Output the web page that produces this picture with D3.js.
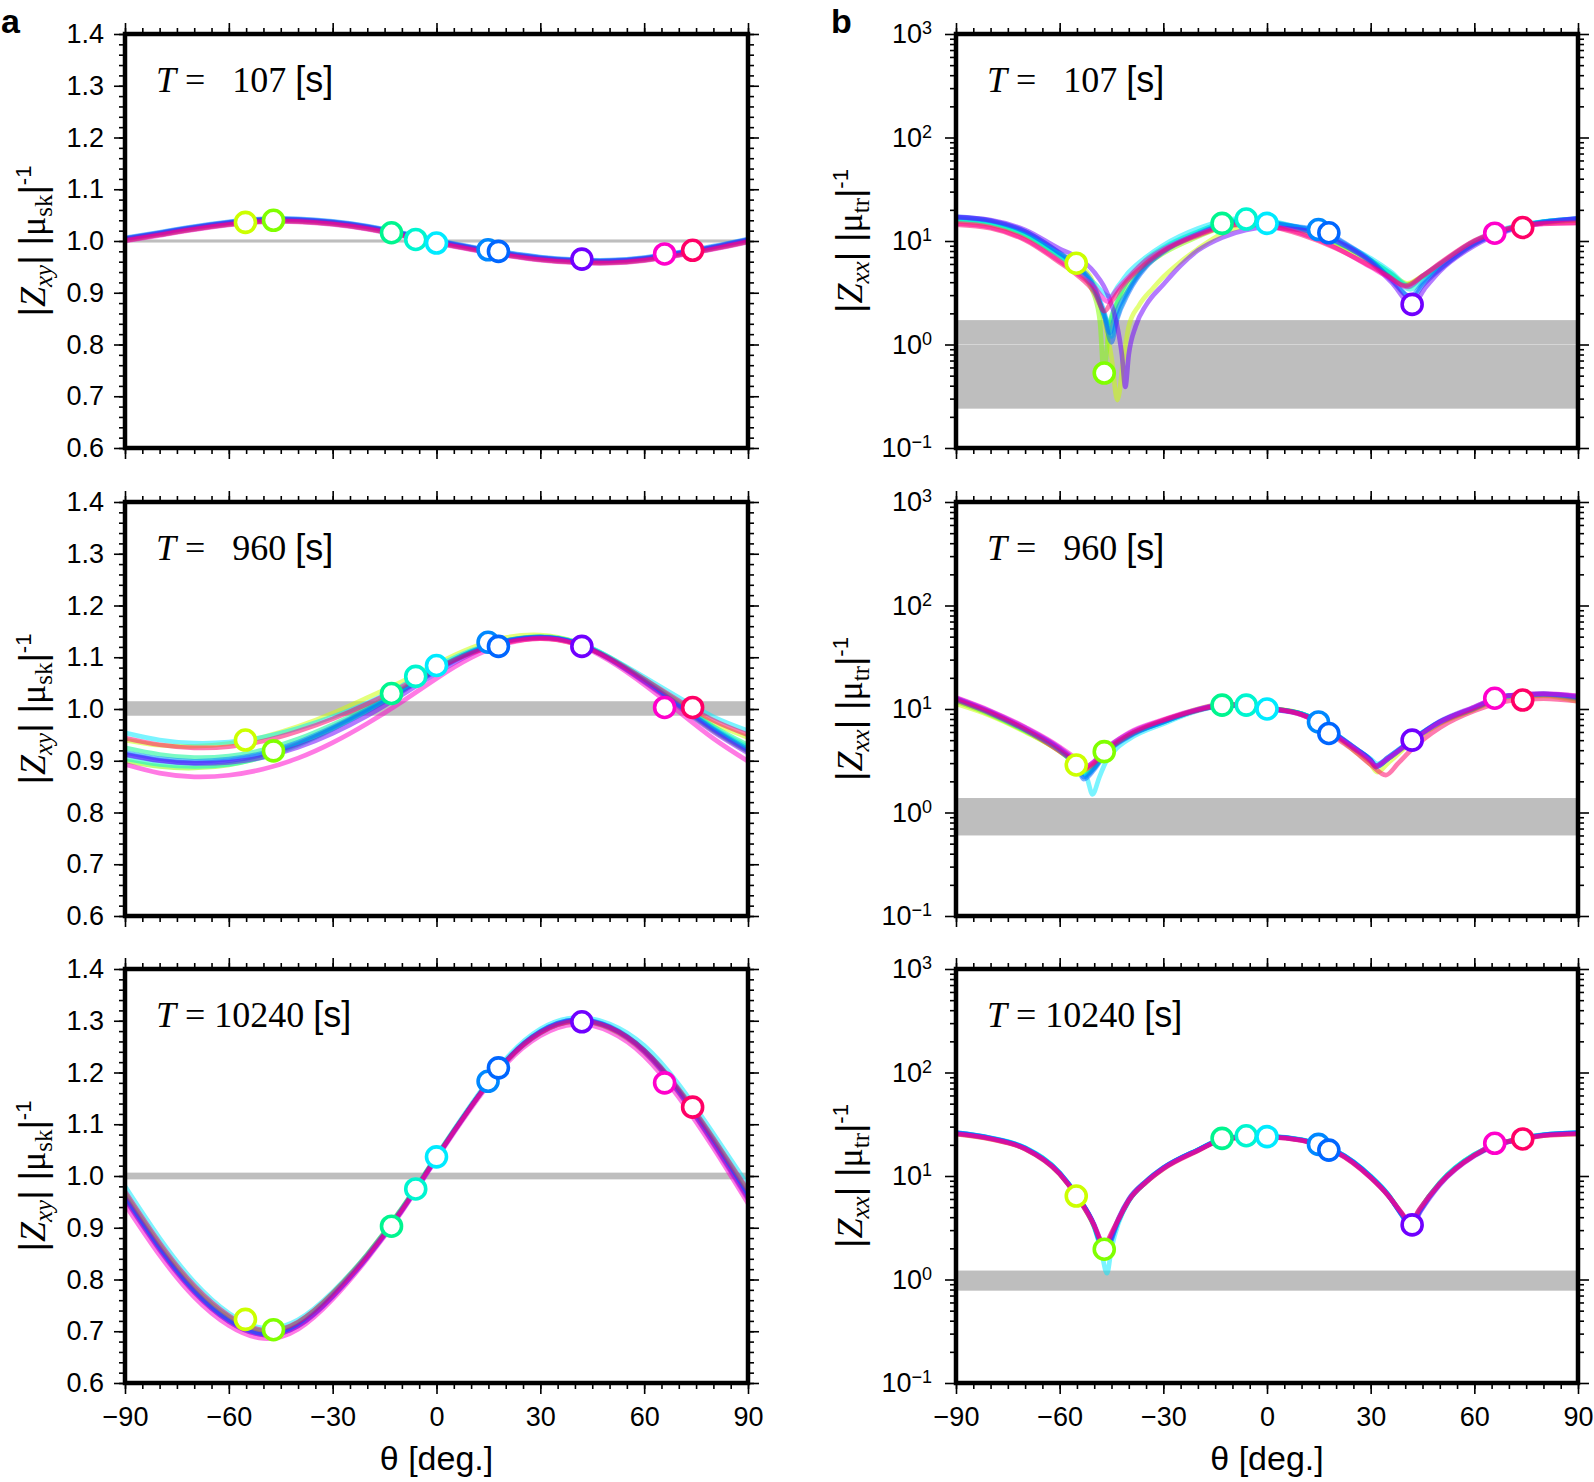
<!DOCTYPE html>
<html><head><meta charset="utf-8">
<script src="https://cdn.jsdelivr.net/npm/d3@7"></script>
<style>body{margin:0;background:#fff}svg{display:block}</style>
</head><body>
<svg id="fig" width="1594" height="1482"></svg>
<script>
const SANS = "'Liberation Sans', Arial, Helvetica, sans-serif";
const SERIF = "'Liberation Serif', 'Times New Roman', serif";

// ---------------- data ----------------
const periods = ["  107", "  960", "10240"];
const xTicks = [-90, -60, -30, 0, 30, 60, 90];
const linTicks = [0.6, 0.7, 0.8, 0.9, 1.0, 1.1, 1.2, 1.3, 1.4];
const logTicks = [0.1, 1, 10, 100, 1000];
const logExp = ["\u22121", "0", "1", "2", "3"];
const siteAngles = [-55.2, -47.1, -13, -6, 0, 14.9, 17.9, 42, 65.9, 74];
const siteColors = ["#ccff00", "#80ff00", "#00f58f", "#00f5d0", "#00eaff", "#0088ff", "#0066ff", "#7000ff", "#ff00cc", "#ff0066"];
const thetaGrid = [-90,-80,-70,-60,-50,-40,-30,-20,-10,0,10,20,30,40,50,60,70,80,90];

// panel a : |Zxy| |mu_sk|^-1, one array per site (values on thetaGrid)
const lineA107 = [
 [1.002,1.013,1.024,1.033,1.039,1.039,1.034,1.025,1.012,0.998,0.985,0.974,0.965,0.960,0.959,0.964,0.974,0.986,1.000],
 [1.003,1.014,1.025,1.034,1.040,1.040,1.035,1.026,1.013,0.999,0.986,0.975,0.966,0.961,0.960,0.965,0.975,0.987,1.001],
 [1.004,1.015,1.026,1.035,1.041,1.041,1.036,1.027,1.014,1.000,0.987,0.976,0.967,0.962,0.961,0.966,0.976,0.988,1.002],
 [1.003,1.014,1.025,1.034,1.040,1.040,1.035,1.026,1.013,0.999,0.986,0.975,0.966,0.961,0.960,0.965,0.975,0.987,1.001],
 [1.001,1.012,1.023,1.032,1.038,1.038,1.033,1.024,1.011,0.997,0.984,0.973,0.964,0.959,0.958,0.963,0.973,0.985,0.999],
 [1.006,1.017,1.028,1.037,1.043,1.043,1.038,1.029,1.016,1.002,0.989,0.978,0.969,0.964,0.963,0.968,0.978,0.990,1.004],
 [1.005,1.016,1.027,1.036,1.042,1.042,1.037,1.028,1.015,1.001,0.988,0.977,0.968,0.963,0.962,0.967,0.977,0.989,1.003],
 [1.004,1.015,1.026,1.035,1.041,1.041,1.036,1.027,1.014,1.000,0.987,0.976,0.967,0.962,0.961,0.966,0.976,0.988,1.002],
 [1.000,1.011,1.022,1.031,1.037,1.037,1.032,1.023,1.010,0.996,0.983,0.972,0.963,0.958,0.957,0.962,0.972,0.984,0.998],
 [1.001,1.012,1.023,1.032,1.038,1.038,1.033,1.024,1.011,0.997,0.984,0.973,0.964,0.959,0.958,0.963,0.973,0.985,0.999]
];
const lineA960 = [
 [0.940,0.930,0.928,0.933,0.946,0.966,0.992,1.022,1.053,1.087,1.118,1.138,1.143,1.130,1.098,1.056,1.013,0.973,0.945],
 [0.900,0.889,0.886,0.892,0.908,0.932,0.963,0.998,1.036,1.076,1.110,1.131,1.139,1.128,1.096,1.053,1.006,0.958,0.918],
 [0.925,0.912,0.906,0.909,0.921,0.942,0.970,1.002,1.039,1.078,1.111,1.132,1.140,1.130,1.100,1.058,1.012,0.966,0.930],
 [0.904,0.893,0.889,0.893,0.907,0.930,0.961,0.997,1.036,1.077,1.110,1.131,1.138,1.128,1.098,1.056,1.010,0.964,0.926],
 [0.954,0.940,0.934,0.936,0.946,0.963,0.985,1.012,1.045,1.082,1.113,1.132,1.138,1.130,1.100,1.062,1.022,0.985,0.958],
 [0.916,0.904,0.899,0.903,0.915,0.936,0.965,0.999,1.037,1.077,1.111,1.132,1.139,1.128,1.097,1.054,1.008,0.962,0.922],
 [0.913,0.901,0.896,0.900,0.912,0.933,0.962,0.996,1.034,1.074,1.109,1.131,1.139,1.128,1.097,1.054,1.007,0.960,0.919],
 [0.912,0.900,0.895,0.897,0.907,0.926,0.953,0.987,1.027,1.069,1.106,1.130,1.138,1.128,1.096,1.052,1.004,0.956,0.915],
 [0.893,0.876,0.869,0.872,0.884,0.905,0.935,0.972,1.014,1.059,1.099,1.126,1.136,1.126,1.093,1.047,0.995,0.943,0.899],
 [0.944,0.931,0.925,0.927,0.938,0.957,0.981,1.010,1.043,1.078,1.108,1.128,1.136,1.126,1.098,1.058,1.016,0.978,0.950]
];
const lineA10240 = [
 [0.965,0.866,0.784,0.727,0.700,0.717,0.774,0.849,0.938,1.038,1.135,1.221,1.277,1.300,1.286,1.241,1.165,1.069,0.966],
 [0.958,0.860,0.778,0.722,0.696,0.713,0.770,0.846,0.936,1.037,1.135,1.221,1.277,1.299,1.285,1.239,1.161,1.064,0.959],
 [0.966,0.867,0.784,0.727,0.700,0.717,0.773,0.848,0.937,1.037,1.135,1.221,1.277,1.300,1.287,1.243,1.167,1.072,0.969],
 [0.962,0.862,0.780,0.723,0.696,0.713,0.769,0.844,0.934,1.035,1.134,1.220,1.276,1.299,1.286,1.242,1.165,1.069,0.965],
 [0.980,0.880,0.795,0.735,0.706,0.722,0.776,0.849,0.938,1.039,1.138,1.226,1.284,1.306,1.294,1.252,1.177,1.082,0.982],
 [0.960,0.861,0.778,0.721,0.694,0.711,0.768,0.844,0.934,1.036,1.135,1.222,1.279,1.302,1.289,1.243,1.165,1.067,0.961],
 [0.957,0.858,0.776,0.719,0.693,0.710,0.767,0.843,0.934,1.036,1.135,1.222,1.279,1.302,1.288,1.242,1.163,1.064,0.958],
 [0.955,0.857,0.775,0.719,0.693,0.710,0.767,0.843,0.933,1.035,1.134,1.221,1.278,1.301,1.287,1.240,1.161,1.062,0.955],
 [0.945,0.847,0.766,0.711,0.686,0.704,0.762,0.840,0.931,1.033,1.131,1.216,1.271,1.293,1.279,1.232,1.152,1.054,0.947],
 [0.970,0.871,0.788,0.730,0.702,0.718,0.773,0.847,0.936,1.037,1.135,1.221,1.277,1.299,1.287,1.243,1.168,1.073,0.972]
];
const markA107 = [1.036, 1.040, 1.016, 1.003, 0.996, 0.983, 0.980, 0.965, 0.975, 0.982];
const markA960 = [0.940, 0.919, 1.030, 1.063, 1.084, 1.129, 1.121, 1.121, 1.003, 1.003];
const markA10240 = [0.723, 0.703, 0.903, 0.975, 1.037, 1.183, 1.209, 1.298, 1.180, 1.133];

// panel b : |Zxx| |mu_tr|^-1, one list of [theta, value] per site
const lineB107 = [
 [[-90,15.5],[-80,14.3],[-70,11.3],[-60,7.4],[-55,6.1],[-50,3.8],[-47,1.6],[-45,0.75],[-43.3,0.29],[-41.5,0.75],[-40,1.5],[-37,2.4],[-33,3.5],[-30,4.5],[-25,6.3],[-20,8.4],[-13,11.8],[-6,14],[0,14.5],[10,12.6],[20,9.6],[30,6.5],[36,4.8],[40.5,3.9],[45,4.6],[50,5.9],[60,9.8],[70,13.2],[80,15],[90,15.8]],
 [[-90,15.8],[-80,14.5],[-70,11.2],[-60,7],[-55,5.3],[-50,3],[-48.3,1.6],[-47.2,0.5],[-46,1.2],[-44,2.2],[-40,3.7],[-35,5.8],[-30,7.6],[-20,11],[-13,13.6],[-6,14.8],[0,14.7],[10,12.6],[20,9.4],[30,6.3],[36,4.7],[40.5,3.8],[45,4.5],[50,5.8],[60,9.6],[70,13],[80,15],[90,15.9]],
 [[-90,16.2],[-80,14.9],[-70,11.5],[-60,7.1],[-55,5.5],[-50,3.4],[-47.5,2.1],[-46,1.6],[-44.5,2.1],[-42,3.3],[-35,6.6],[-30,8.6],[-20,12.3],[-13,14.9],[-6,15.8],[0,15.3],[10,13],[20,9.8],[30,6.5],[36,4.8],[41,3.6],[45,4.5],[50,5.9],[60,9.8],[70,13.3],[80,15.3],[90,16.2]],
 [[-90,16.4],[-80,15.1],[-70,11.7],[-60,7.2],[-55,5.5],[-50,3.3],[-46.5,1.7],[-45,1.2],[-43.5,1.8],[-40,3.4],[-35,6.2],[-30,8.4],[-20,12.2],[-13,15],[-6,16.3],[0,15.8],[10,13.2],[20,9.9],[30,6.5],[36,4.7],[41.5,3.4],[46,4.4],[50,5.7],[60,9.7],[70,13.3],[80,15.4],[90,16.3]],
 [[-90,16.6],[-80,15.3],[-70,12],[-60,7.4],[-55,5.6],[-50,3.9],[-45.5,2.9],[-43,3.7],[-40,5],[-35,7],[-30,9.1],[-20,13.2],[-13,15.6],[-6,16.6],[0,15],[10,13.4],[20,10],[30,6.8],[36,5],[41,3.7],[45,4.6],[50,6],[60,10],[70,13.5],[80,15.4],[90,16.4]],
 [[-90,17],[-80,15.6],[-70,12.3],[-60,7.6],[-55,5.7],[-50,3.5],[-47,2],[-45.5,1.3],[-44,1.9],[-40,3.4],[-35,5.8],[-30,8],[-20,11.8],[-13,14.5],[-6,15.7],[0,15.3],[10,13.6],[15,12.9],[20,10.5],[30,6.4],[36,4.3],[41.5,2.9],[45,3.9],[50,5.4],[60,9.4],[70,13],[80,15.3],[90,16.6]],
 [[-90,17.2],[-80,15.8],[-70,12.4],[-60,7.7],[-55,5.8],[-50,3.6],[-47,1.8],[-45,1.05],[-43.5,1.7],[-40,3.2],[-35,5.6],[-30,7.8],[-20,11.6],[-13,14.3],[-6,15.5],[0,15.1],[10,13.4],[18,12],[20,10.8],[30,6.5],[36,4.2],[42,2.8],[45,3.7],[50,5.3],[60,9.3],[70,12.9],[80,15.3],[90,16.6]],
 [[-90,17],[-80,15.9],[-70,12.8],[-60,8.4],[-55,7],[-50,5],[-46,3],[-43.5,1.6],[-42,0.8],[-41,0.39],[-40,0.8],[-38,1.5],[-35,2.4],[-30,3.8],[-25,5.8],[-20,8.1],[-13,10.8],[-6,12.8],[0,13.5],[10,12.8],[20,10],[30,6.2],[36,4],[42,2.45],[46,3.6],[50,5.1],[60,9],[70,12.6],[80,15],[90,16.5]],
 [[-90,14.8],[-80,13.6],[-70,10.4],[-60,6.4],[-55,4.9],[-50,3.6],[-46,2.6],[-44,3.2],[-40,4.5],[-35,6.5],[-30,8.3],[-20,11.6],[-13,13.8],[-6,14.6],[0,14.2],[10,11.8],[20,8.6],[30,5.6],[35,4.5],[40.5,3.6],[45,4.6],[50,6],[60,10],[66,11.9],[70,13.2],[80,14.6],[90,15]],
 [[-90,14.4],[-80,13.3],[-70,10.2],[-60,6.2],[-55,4.7],[-50,3.2],[-47,2.1],[-45,2.6],[-42,3.6],[-35,6.1],[-30,8],[-20,11.3],[-13,13.6],[-6,14.5],[0,14],[10,11.5],[20,8.5],[30,5.7],[35,4.6],[40,3.7],[45,4.6],[50,6.1],[60,10.1],[70,13.3],[80,14.8],[90,15]]
];
const lineB960 = [
 [[-90,11.2],[-80,8.6],[-70,6.0],[-60,3.9],[-55,2.88],[-52.5,2.45],[-50,2.85],[-47,3.8],[-40,5.5],[-30,7.6],[-20,10],[-13,11.1],[-6,11.1],[0,10.3],[10,9.0],[15,7.5],[20,5.5],[25,4.0],[30,2.9],[32,2.45],[35,3.0],[42,4.8],[50,7.2],[60,9.9],[66,12],[70,13],[80,13.4],[90,11.8]],
 [[-90,11.8],[-80,8.8],[-70,6.1],[-60,3.9],[-55,2.9],[-52.5,2.5],[-50,2.9],[-47,3.87],[-40,5.6],[-30,7.5],[-20,9.8],[-13,10.9],[-6,10.9],[0,10.2],[10,9.0],[15,7.6],[20,5.6],[25,4.2],[30,3.1],[31.5,2.8],[35,3.3],[42,4.9],[50,7.3],[60,10],[66,12.2],[70,13.2],[80,13.6],[90,12.3]],
 [[-90,12.2],[-80,9.0],[-70,6.2],[-60,4.0],[-55,2.85],[-52.5,2.35],[-50,2.75],[-47,3.8],[-40,5.6],[-30,7.6],[-20,9.9],[-13,10.9],[-6,11.0],[0,10.2],[10,9.0],[15,7.6],[20,5.6],[25,4.2],[30,3.2],[31.5,2.8],[35,3.3],[42,5.0],[50,7.4],[60,10.1],[66,12.3],[70,13.3],[80,13.8],[90,12.6]],
 [[-90,12.4],[-80,9.1],[-70,6.3],[-60,4.0],[-55,2.85],[-52.5,2.3],[-50,2.7],[-47,3.7],[-40,5.5],[-30,7.5],[-20,9.8],[-13,10.9],[-6,10.9],[0,10.1],[10,9.0],[15,7.6],[20,5.7],[25,4.3],[30,3.2],[31.5,2.85],[35,3.4],[42,5.0],[50,7.4],[60,10.2],[66,12.4],[70,13.4],[80,13.9],[90,12.8]],
 [[-90,12.6],[-80,9.2],[-70,6.3],[-60,4.0],[-55,2.75],[-52,2.1],[-50.5,1.5],[-48.5,2.2],[-47,2.9],[-44,4.0],[-40,5.1],[-30,7.2],[-20,9.6],[-13,10.7],[-6,10.8],[0,10.0],[10,9.0],[15,7.6],[20,5.7],[25,4.3],[30,3.3],[32,2.95],[36,3.6],[42,5.1],[50,7.5],[60,10.3],[66,12.5],[70,13.4],[80,13.9],[90,13.0]],
 [[-90,12.5],[-80,9.2],[-70,6.3],[-60,4.0],[-55,2.8],[-53,2.2],[-50,2.7],[-47,3.7],[-40,5.5],[-30,7.5],[-20,9.8],[-13,10.8],[-6,10.9],[0,10.2],[10,9.0],[15,7.5],[20,5.7],[25,4.3],[30,3.2],[31.5,2.75],[35,3.3],[42,5.0],[50,7.5],[60,10.2],[66,12.4],[70,13.4],[80,13.9],[90,12.9]],
 [[-90,12.6],[-80,9.3],[-70,6.4],[-60,4.1],[-55,2.85],[-53,2.1],[-50,2.6],[-47,3.6],[-40,5.4],[-30,7.5],[-20,9.8],[-13,10.8],[-6,10.9],[0,10.2],[10,8.9],[15,7.4],[18,6.0],[20,5.6],[25,4.2],[30,3.2],[31.5,2.75],[35,3.3],[42,5.0],[50,7.5],[60,10.3],[66,12.5],[70,13.5],[80,14],[90,13]],
 [[-90,12.8],[-80,9.5],[-70,6.6],[-60,4.2],[-55,3.1],[-53.2,2.7],[-50,3.1],[-47,4.0],[-40,5.8],[-30,7.8],[-20,9.9],[-13,10.9],[-6,10.9],[0,10.1],[10,8.8],[15,7.4],[20,5.6],[25,4.3],[30,3.2],[31.5,2.85],[35,3.4],[42,5.0],[50,7.6],[60,10.5],[66,12.6],[70,13.5],[80,14],[90,13.3]],
 [[-90,12.9],[-80,9.6],[-70,6.7],[-60,4.3],[-55,3.2],[-53.2,2.7],[-50,3.1],[-47,4.0],[-40,5.9],[-30,7.9],[-20,10],[-13,11],[-6,11],[0,10.2],[10,8.8],[15,7.4],[20,5.5],[25,4.2],[30,3.1],[31.5,2.8],[35,3.3],[42,4.9],[50,7.4],[60,10.4],[66,12.7],[70,13.5],[80,14.1],[90,13.4]],
 [[-90,12.2],[-80,9.1],[-70,6.3],[-60,3.9],[-55,3.0],[-53,2.6],[-50,3.0],[-47,3.8],[-40,5.6],[-30,7.8],[-20,9.7],[-13,10.9],[-6,11.1],[0,10.3],[10,8.8],[15,7.3],[20,5.3],[25,4.0],[30,2.9],[34.4,2.3],[38,3.0],[42,4.1],[50,6.6],[60,9.6],[70,12],[74,12.3],[80,12.6],[90,11.9]]
];
const lineB10240 = [
 [[-90,25.5],[-80,22.8],[-70,18.3],[-60,10.5],[-55,6.4],[-50,3.3],[-48,2.2],[-46.8,1.85],[-45.5,2.4],[-43,3.8],[-40,5.8],[-35,8.7],[-30,11.8],[-20,17.7],[-13,22.5],[-6,23.7],[0,23.9],[10,22.2],[15,19.9],[20,17.1],[30,9.7],[35,6.5],[39,4.3],[41.5,3.4],[44,4.6],[50,8.4],[60,15.8],[66,19.6],[70,21.4],[80,24.6],[90,25.5]],
 [[-90,25.7],[-80,23],[-70,18.4],[-60,10.5],[-55,6.3],[-50,3.2],[-48,2.1],[-47,1.9],[-45.8,2.3],[-43,3.7],[-40,5.8],[-35,8.7],[-30,11.8],[-20,17.7],[-13,22.5],[-6,23.8],[0,24],[10,22.3],[15,20],[20,17.2],[30,9.8],[35,6.6],[39,4.3],[41.5,3.3],[44,4.6],[50,8.5],[60,16],[66,19.8],[70,21.6],[80,24.8],[90,25.7]],
 [[-90,26],[-80,23.2],[-70,18.6],[-60,10.7],[-55,6.4],[-50,3.3],[-48,2.2],[-46.7,1.75],[-45.5,2.4],[-43,3.8],[-40,5.9],[-35,8.9],[-30,12],[-20,17.9],[-13,22.7],[-6,24],[0,24.1],[10,22.4],[15,20.1],[20,17.3],[30,9.9],[35,6.6],[39,4.3],[41.5,3.3],[44,4.6],[50,8.6],[60,16.1],[66,19.9],[70,21.7],[80,25],[90,26]],
 [[-90,26.1],[-80,23.3],[-70,18.7],[-60,10.7],[-55,6.4],[-50,3.3],[-48,2.15],[-46.6,1.7],[-45.4,2.35],[-43,3.8],[-40,5.9],[-35,8.9],[-30,12],[-20,17.9],[-13,22.7],[-6,24.1],[0,24.2],[10,22.4],[15,20.1],[20,17.3],[30,9.9],[35,6.6],[39,4.3],[41.5,3.3],[44,4.6],[50,8.6],[60,16.1],[66,19.9],[70,21.7],[80,25],[90,26.1]],
 [[-90,26.3],[-80,23.4],[-70,18.8],[-60,10.8],[-55,6.5],[-50,3.2],[-48,1.9],[-46.3,1.15],[-45,2.0],[-43,3.5],[-40,5.7],[-35,8.7],[-30,11.9],[-20,17.9],[-13,22.7],[-6,24.1],[0,24.2],[10,22.5],[15,20.2],[20,17.4],[30,10],[35,6.7],[39,4.2],[41.5,3.1],[44,4.5],[50,8.6],[60,16.2],[66,20],[70,21.8],[80,25.1],[90,26.3]],
 [[-90,26.1],[-80,23.2],[-70,18.6],[-60,10.6],[-55,6.4],[-50,3.3],[-48,2.1],[-46.6,1.7],[-45.3,2.3],[-43,3.7],[-40,5.8],[-35,8.8],[-30,11.9],[-20,17.8],[-13,22.6],[-6,23.9],[0,24],[10,22.3],[15,20.2],[20,17.3],[30,9.8],[35,6.6],[39,4.2],[41.6,3.2],[44,4.5],[50,8.4],[60,15.9],[66,19.7],[70,21.5],[80,24.9],[90,26.1]],
 [[-90,26.2],[-80,23.3],[-70,18.6],[-60,10.6],[-55,6.4],[-50,3.3],[-48,2.1],[-46.5,1.7],[-45.2,2.3],[-43,3.7],[-40,5.8],[-35,8.8],[-30,11.9],[-20,17.8],[-13,22.6],[-6,23.9],[0,24],[10,22.3],[15,20.1],[20,17.4],[30,9.9],[35,6.6],[39,4.2],[41.7,3.2],[44.2,4.5],[50,8.4],[60,15.9],[66,19.7],[70,21.5],[80,24.9],[90,26.2]],
 [[-90,25.8],[-80,23],[-70,18.4],[-60,10.6],[-55,6.5],[-50,3.4],[-48,2.3],[-46.5,1.9],[-45.2,2.5],[-43,3.9],[-40,6],[-35,8.9],[-30,12],[-20,17.8],[-13,22.5],[-6,23.7],[0,23.9],[10,22.2],[15,20],[20,17.1],[30,9.7],[35,6.5],[39,4.3],[42,3.37],[44.5,4.6],[50,8.2],[60,15.6],[66,19.5],[70,21.4],[80,24.8],[90,25.8]],
 [[-90,25.6],[-80,22.9],[-70,18.3],[-60,10.5],[-55,6.3],[-50,3.3],[-48,2.3],[-47,1.95],[-45.7,2.5],[-43,3.8],[-40,5.8],[-35,8.7],[-30,11.8],[-20,17.6],[-13,22.4],[-6,23.6],[0,23.8],[10,22.1],[15,19.8],[20,17],[30,9.6],[35,6.5],[39,4.4],[41.5,3.5],[44,4.7],[50,8.4],[60,15.8],[66,20.5],[70,21.5],[80,24.6],[90,25.6]],
 [[-90,25.4],[-80,22.7],[-70,18.2],[-60,10.4],[-55,6.3],[-50,3.3],[-48,2.3],[-47,2],[-45.7,2.5],[-43,3.8],[-40,5.8],[-35,8.7],[-30,11.7],[-20,17.5],[-13,22.3],[-6,23.5],[0,23.7],[10,22],[15,19.7],[20,16.9],[30,9.6],[35,6.5],[39,4.4],[41.5,3.5],[44,4.7],[50,8.5],[60,15.9],[66,20],[70,21.8],[74,22.8],[80,24.5],[90,25.4]]
];
const markB107 = [6.1, 0.53, 14.8, 16.3, 14.8, 12.9, 12.0, 2.44, 11.9, 13.5];
const markB960 = [2.88, 3.87, 10.9, 10.9, 10.0, 7.5, 5.8, 5.0, 12.7, 12.2];
const markB10240 = [6.4, 1.96, 23.1, 24.5, 24.0, 20.2, 17.8, 3.37, 20.7, 22.8];

const bandA = [[0.997, 1.003], [0.987, 1.015], [0.9935, 1.0065]];
const bandB = [[0.24, 1.72], [0.6, 1.38], [0.78, 1.22]];

// ---------------- layout ----------------
const cols = [{x0: 125, x1: 748}, {x0: 956, x1: 1578}];
const rows = [{y0: 34, y1: 448}, {y0: 502, y1: 916}, {y0: 969, y1: 1383}];
const svg = d3.select("#fig");

const panelsA = [[lineA107, markA107], [lineA960, markA960], [lineA10240, markA10240]];
const panelsB = [[lineB107, markB107], [lineB960, markB960], [lineB10240, markB10240]];

function fmtX(d) { return d < 0 ? "\u2212" + Math.abs(d) : String(d); }

function addAxis(parent, gen, tx, ty, vals, size, fmt, pad) {
  const a = gen.tickValues(vals).tickSize(size).tickSizeOuter(0).tickPadding(pad || 0)
    .tickFormat(fmt || (() => ""));
  const g = parent.append("g").attr("transform", `translate(${tx},${ty})`).call(a);
  g.select(".domain").remove();
  g.attr("font-family", SANS).attr("font-size", 27);
  g.selectAll(".tick line").attr("stroke", "#000").attr("stroke-width", 1.6);
  g.selectAll(".tick text").attr("fill", "#000");
  return g;
}

function yTitle(parent, x, y, sub1, sub2) {
  const t = parent.append("text").attr("transform", `translate(${x},${y}) rotate(-90)`)
    .attr("text-anchor", "middle").attr("font-size", 36).attr("fill", "#000");
  t.append("tspan").attr("font-family", SANS).text("|");
  t.append("tspan").attr("font-family", SERIF).attr("font-style", "italic").text("Z");
  t.append("tspan").attr("font-family", SERIF).attr("font-style", "italic").attr("font-size", 25).attr("dy", 7).text(sub1);
  t.append("tspan").attr("font-family", SANS).attr("dy", -7).text("| |");
  t.append("tspan").attr("font-family", SERIF).text("\u03bc");
  t.append("tspan").attr("font-family", SERIF).attr("font-size", 25).attr("dy", 7).text(sub2);
  t.append("tspan").attr("font-family", SANS).attr("dy", -7).text("|");
  t.append("tspan").attr("font-family", SANS).attr("font-size", 22).attr("dy", -14).text("-1");
}

function drawPanel(ci, ri) {
  const isLog = ci === 1;
  const c = cols[ci], r = rows[ri];
  const x = d3.scaleLinear().domain([-90, 90]).range([c.x0, c.x1]);
  const y = isLog ? d3.scaleLog().domain([0.1, 1000]).range([r.y1, r.y0])
                  : d3.scaleLinear().domain([0.6, 1.4]).range([r.y1, r.y0]);
  const g = svg.append("g");
  const clipId = `clip-${ci}-${ri}`;
  g.append("clipPath").attr("id", clipId).append("rect")
    .attr("x", c.x0).attr("y", r.y0).attr("width", c.x1 - c.x0).attr("height", r.y1 - r.y0);
  const inner = g.append("g").attr("clip-path", `url(#${clipId})`);

  // reference band
  const band = isLog ? bandB[ri] : bandA[ri];
  inner.append("rect").attr("x", c.x0).attr("width", c.x1 - c.x0)
    .attr("y", y(band[1])).attr("height", y(band[0]) - y(band[1])).attr("fill", "#bebebe");
  if (isLog && ri === 0) {
    inner.append("line").attr("x1", c.x0).attr("x2", c.x1).attr("y1", y(1)).attr("y2", y(1))
      .attr("stroke", "#d6d6d6").attr("stroke-width", 1.2);
  }

  // curves
  const line = d3.line().x(d => x(d[0])).y(d => y(d[1]))
    .curve(isLog ? d3.curveMonotoneX : d3.curveNatural);
  const [lines, marks] = isLog ? panelsB[ri] : panelsA[ri];
  lines.forEach((arr, i) => {
    const pts = isLog ? arr : thetaGrid.map((t, k) => [t, arr[k]]);
    inner.append("path").datum(pts).attr("d", line).attr("fill", "none")
      .attr("stroke", siteColors[i]).attr("stroke-opacity", 0.52).attr("stroke-width", 4.7)
      .attr("stroke-linejoin", "round").attr("stroke-linecap", "round");
  });
  // site markers
  inner.selectAll("circle.site").data(marks).enter().append("circle")
    .attr("cx", (d, i) => x(siteAngles[i])).attr("cy", d => y(d)).attr("r", 10)
    .attr("fill", "#fff").attr("stroke", (d, i) => siteColors[i]).attr("stroke-width", 3.6);

  // ticks
  const minorX = d3.range(-90, 91, 5);
  const minorY = isLog ? [0.1, 1, 10, 100].flatMap(d => [2,3,4,5,6,7,8,9].map(k => d * k))
                       : d3.range(0, 41).map(i => +(0.6 + i * 0.02).toFixed(2));
  const majorY = isLog ? logTicks : linTicks;
  addAxis(g, d3.axisBottom(x), 0, r.y1, minorX, 6);
  addAxis(g, d3.axisTop(x), 0, r.y0, minorX, 6);
  addAxis(g, d3.axisTop(x), 0, r.y0, xTicks, 11);
  addAxis(g, d3.axisBottom(x), 0, r.y1, xTicks, 11, ri === 2 ? fmtX : null, 13);
  addAxis(g, d3.axisLeft(y), c.x0, 0, minorY, 6);
  addAxis(g, d3.axisRight(y), c.x1, 0, minorY, 6);
  addAxis(g, d3.axisRight(y), c.x1, 0, majorY, 11);
  const ly = addAxis(g, d3.axisLeft(y), c.x0, 0, majorY, 11,
    isLog ? (d => "10") : d3.format(".1f"), isLog ? 13 : 10);
  if (isLog) {
    ly.selectAll(".tick text").each(function(d) {
      const t = d3.select(this);
      t.text(null);
      t.append("tspan").text("10");
      t.append("tspan").attr("dy", "-0.5em").attr("font-size", 18).text(logExp[logTicks.indexOf(d)]);
    });
  }

  // frame
  g.append("rect").attr("x", c.x0).attr("y", r.y0).attr("width", c.x1 - c.x0).attr("height", r.y1 - r.y0)
    .attr("fill", "none").attr("stroke", "#000").attr("stroke-width", 4.5);

  // period label
  const t = g.append("text").attr("x", c.x0 + 31).attr("y", r.y0 + 58).attr("font-size", 36)
    .attr("font-family", SERIF).attr("fill", "#000").style("white-space", "pre");
  t.append("tspan").attr("font-style", "italic").text("T");
  t.append("tspan").text(" = " + periods[ri] + " ");
  t.append("tspan").attr("font-family", SANS).text("[s]");

  // axis titles
  yTitle(g, isLog ? 862 : 45, (r.y0 + r.y1) / 2, isLog ? "xx" : "xy", isLog ? "tr" : "sk");
  if (ri === 2) {
    g.append("text").attr("x", (c.x0 + c.x1) / 2).attr("y", 1470).attr("text-anchor", "middle")
      .attr("font-family", SANS).attr("font-size", 34).attr("fill", "#000").text("\u03b8 [deg.]");
  }
}

for (let ci = 0; ci < 2; ci++) for (let ri = 0; ri < 3; ri++) drawPanel(ci, ri);

svg.append("text").attr("x", 1).attr("y", 33).attr("font-family", SANS).attr("font-weight", "bold")
  .attr("font-size", 34).attr("fill", "#000").text("a");
svg.append("text").attr("x", 831).attr("y", 33).attr("font-family", SANS).attr("font-weight", "bold")
  .attr("font-size", 34).attr("fill", "#000").text("b");
</script>
</body></html>
